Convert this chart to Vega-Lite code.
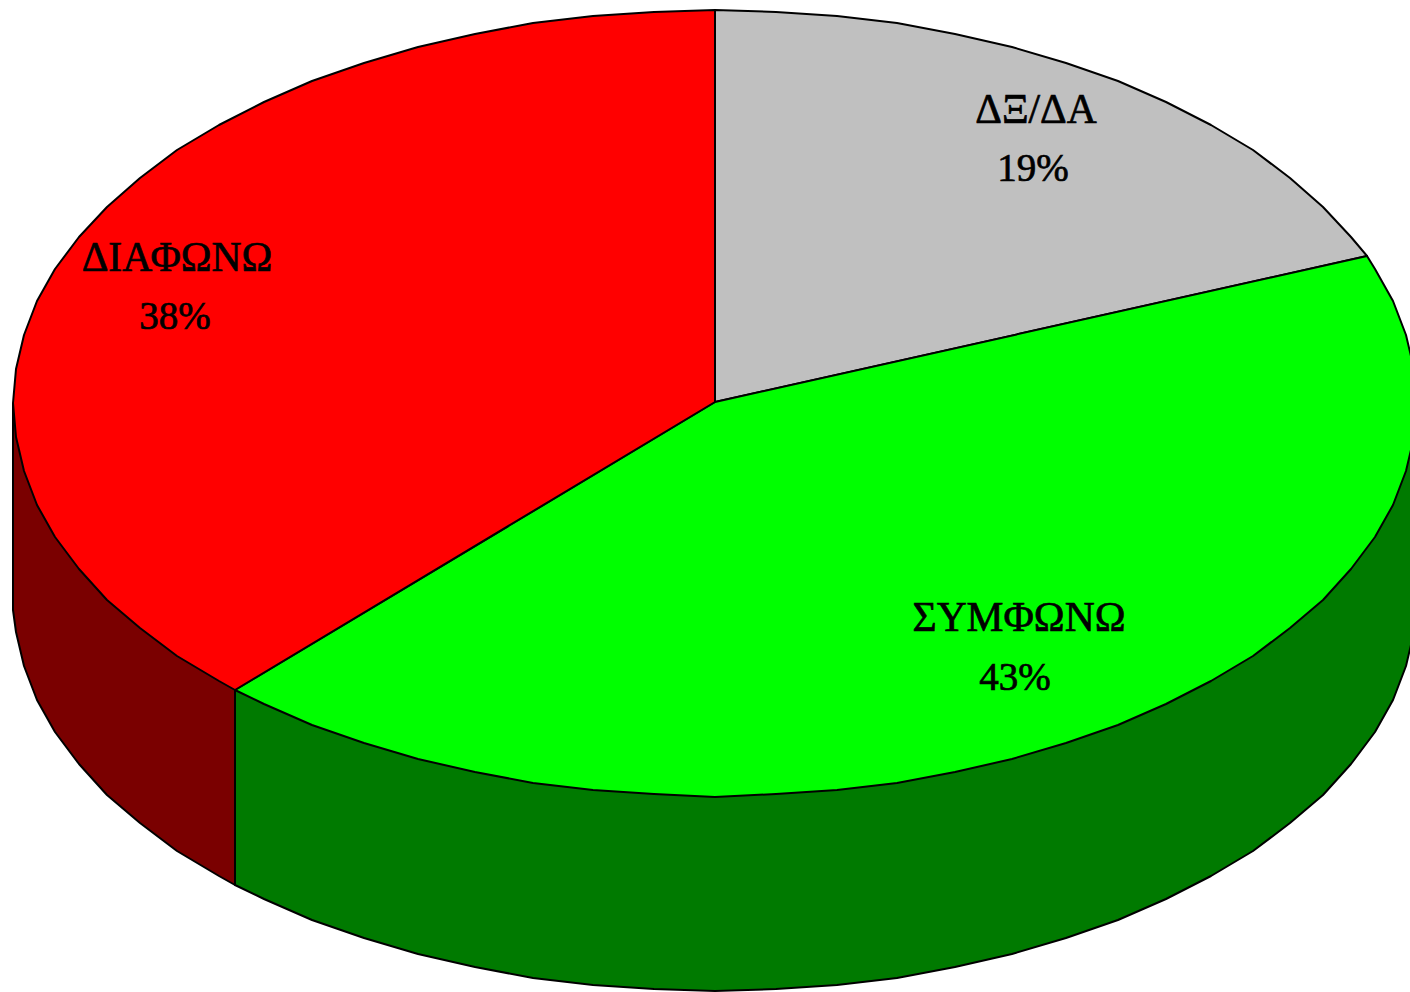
{"$schema":"https://vega.github.io/schema/vega-lite/v6.json","autosize":{"type":"fit","contains":"padding"},"width":1410,"height":992,"padding":0,"background":"white","view":{"stroke":null},
"datasets":{
"sides":[
{"s":"Συμφωνώ πλευρά","x":1417,"y":403},{"s":"Συμφωνώ πλευρά","x":1417,"y":598},{"s":"Συμφωνώ πλευρά","x":1414,"y":632},{"s":"Συμφωνώ πλευρά","x":1406,"y":666},{"s":"Συμφωνώ πλευρά","x":1393,"y":700},{"s":"Συμφωνώ πλευρά","x":1375,"y":732},{"s":"Συμφωνώ πλευρά","x":1351,"y":764},{"s":"Συμφωνώ πλευρά","x":1323,"y":795},{"s":"Συμφωνώ πλευρά","x":1290,"y":823},{"s":"Συμφωνώ πλευρά","x":1253,"y":851},{"s":"Συμφωνώ πλευρά","x":1211,"y":876},{"s":"Συμφωνώ πλευρά","x":1166,"y":899},{"s":"Συμφωνώ πλευρά","x":1118,"y":920},{"s":"Συμφωνώ πλευρά","x":1066,"y":938},{"s":"Συμφωνώ πλευρά","x":1012,"y":954},{"s":"Συμφωνώ πλευρά","x":955,"y":967},{"s":"Συμφωνώ πλευρά","x":897,"y":978},{"s":"Συμφωνώ πλευρά","x":837,"y":985},{"s":"Συμφωνώ πλευρά","x":776,"y":989},{"s":"Συμφωνώ πλευρά","x":715,"y":991},{"s":"Συμφωνώ πλευρά","x":654,"y":989},{"s":"Συμφωνώ πλευρά","x":593,"y":985},{"s":"Συμφωνώ πλευρά","x":533,"y":978},{"s":"Συμφωνώ πλευρά","x":475,"y":967},{"s":"Συμφωνώ πλευρά","x":418,"y":954},{"s":"Συμφωνώ πλευρά","x":364,"y":938},{"s":"Συμφωνώ πλευρά","x":312,"y":920},{"s":"Συμφωνώ πλευρά","x":264,"y":899},{"s":"Συμφωνώ πλευρά","x":235,"y":885},{"s":"Συμφωνώ πλευρά","x":235,"y":690},{"s":"Συμφωνώ πλευρά","x":1417,"y":403},
{"s":"Διαφωνώ πλευρά","x":13,"y":403},{"s":"Διαφωνώ πλευρά","x":13,"y":610},{"s":"Διαφωνώ πλευρά","x":16,"y":632},{"s":"Διαφωνώ πλευρά","x":24,"y":666},{"s":"Διαφωνώ πλευρά","x":37,"y":700},{"s":"Διαφωνώ πλευρά","x":55,"y":732},{"s":"Διαφωνώ πλευρά","x":79,"y":764},{"s":"Διαφωνώ πλευρά","x":107,"y":795},{"s":"Διαφωνώ πλευρά","x":140,"y":823},{"s":"Διαφωνώ πλευρά","x":177,"y":851},{"s":"Διαφωνώ πλευρά","x":219,"y":876},{"s":"Διαφωνώ πλευρά","x":235,"y":885},{"s":"Διαφωνώ πλευρά","x":235,"y":690},{"s":"Διαφωνώ πλευρά","x":13,"y":403}
],
"tops":[
{"s":"ΔΞ/ΔΑ","x":715,"y":402},{"s":"ΔΞ/ΔΑ","x":715,"y":10},{"s":"ΔΞ/ΔΑ","x":776,"y":12},{"s":"ΔΞ/ΔΑ","x":837,"y":16},{"s":"ΔΞ/ΔΑ","x":897,"y":23},{"s":"ΔΞ/ΔΑ","x":955,"y":34},{"s":"ΔΞ/ΔΑ","x":1012,"y":47},{"s":"ΔΞ/ΔΑ","x":1066,"y":63},{"s":"ΔΞ/ΔΑ","x":1118,"y":81},{"s":"ΔΞ/ΔΑ","x":1166,"y":102},{"s":"ΔΞ/ΔΑ","x":1211,"y":125},{"s":"ΔΞ/ΔΑ","x":1253,"y":150},{"s":"ΔΞ/ΔΑ","x":1290,"y":178},{"s":"ΔΞ/ΔΑ","x":1323,"y":207},{"s":"ΔΞ/ΔΑ","x":1351,"y":237},{"s":"ΔΞ/ΔΑ","x":1367,"y":256},{"s":"ΔΞ/ΔΑ","x":715,"y":402},
{"s":"ΣΥΜΦΩΝΩ","x":715,"y":402},{"s":"ΣΥΜΦΩΝΩ","x":1367,"y":256},{"s":"ΣΥΜΦΩΝΩ","x":1375,"y":269},{"s":"ΣΥΜΦΩΝΩ","x":1393,"y":301},{"s":"ΣΥΜΦΩΝΩ","x":1406,"y":335},{"s":"ΣΥΜΦΩΝΩ","x":1414,"y":369},{"s":"ΣΥΜΦΩΝΩ","x":1417,"y":403},{"s":"ΣΥΜΦΩΝΩ","x":1414,"y":437},{"s":"ΣΥΜΦΩΝΩ","x":1406,"y":471},{"s":"ΣΥΜΦΩΝΩ","x":1393,"y":505},{"s":"ΣΥΜΦΩΝΩ","x":1375,"y":537},{"s":"ΣΥΜΦΩΝΩ","x":1351,"y":569},{"s":"ΣΥΜΦΩΝΩ","x":1323,"y":600},{"s":"ΣΥΜΦΩΝΩ","x":1290,"y":628},{"s":"ΣΥΜΦΩΝΩ","x":1253,"y":656},{"s":"ΣΥΜΦΩΝΩ","x":1211,"y":681},{"s":"ΣΥΜΦΩΝΩ","x":1166,"y":704},{"s":"ΣΥΜΦΩΝΩ","x":1118,"y":725},{"s":"ΣΥΜΦΩΝΩ","x":1066,"y":743},{"s":"ΣΥΜΦΩΝΩ","x":1012,"y":759},{"s":"ΣΥΜΦΩΝΩ","x":955,"y":772},{"s":"ΣΥΜΦΩΝΩ","x":897,"y":783},{"s":"ΣΥΜΦΩΝΩ","x":837,"y":790},{"s":"ΣΥΜΦΩΝΩ","x":776,"y":794},{"s":"ΣΥΜΦΩΝΩ","x":715,"y":797},{"s":"ΣΥΜΦΩΝΩ","x":654,"y":794},{"s":"ΣΥΜΦΩΝΩ","x":593,"y":790},{"s":"ΣΥΜΦΩΝΩ","x":533,"y":783},{"s":"ΣΥΜΦΩΝΩ","x":475,"y":772},{"s":"ΣΥΜΦΩΝΩ","x":418,"y":759},{"s":"ΣΥΜΦΩΝΩ","x":364,"y":743},{"s":"ΣΥΜΦΩΝΩ","x":312,"y":725},{"s":"ΣΥΜΦΩΝΩ","x":264,"y":704},{"s":"ΣΥΜΦΩΝΩ","x":235,"y":690},{"s":"ΣΥΜΦΩΝΩ","x":715,"y":402},
{"s":"ΔΙΑΦΩΝΩ","x":715,"y":402},{"s":"ΔΙΑΦΩΝΩ","x":235,"y":690},{"s":"ΔΙΑΦΩΝΩ","x":219,"y":681},{"s":"ΔΙΑΦΩΝΩ","x":177,"y":656},{"s":"ΔΙΑΦΩΝΩ","x":140,"y":628},{"s":"ΔΙΑΦΩΝΩ","x":107,"y":600},{"s":"ΔΙΑΦΩΝΩ","x":79,"y":569},{"s":"ΔΙΑΦΩΝΩ","x":55,"y":537},{"s":"ΔΙΑΦΩΝΩ","x":37,"y":505},{"s":"ΔΙΑΦΩΝΩ","x":24,"y":471},{"s":"ΔΙΑΦΩΝΩ","x":16,"y":437},{"s":"ΔΙΑΦΩΝΩ","x":13,"y":403},{"s":"ΔΙΑΦΩΝΩ","x":16,"y":369},{"s":"ΔΙΑΦΩΝΩ","x":24,"y":335},{"s":"ΔΙΑΦΩΝΩ","x":37,"y":301},{"s":"ΔΙΑΦΩΝΩ","x":55,"y":269},{"s":"ΔΙΑΦΩΝΩ","x":79,"y":237},{"s":"ΔΙΑΦΩΝΩ","x":107,"y":207},{"s":"ΔΙΑΦΩΝΩ","x":140,"y":178},{"s":"ΔΙΑΦΩΝΩ","x":177,"y":150},{"s":"ΔΙΑΦΩΝΩ","x":219,"y":125},{"s":"ΔΙΑΦΩΝΩ","x":264,"y":102},{"s":"ΔΙΑΦΩΝΩ","x":312,"y":81},{"s":"ΔΙΑΦΩΝΩ","x":364,"y":63},{"s":"ΔΙΑΦΩΝΩ","x":418,"y":47},{"s":"ΔΙΑΦΩΝΩ","x":475,"y":34},{"s":"ΔΙΑΦΩΝΩ","x":533,"y":23},{"s":"ΔΙΑΦΩΝΩ","x":593,"y":16},{"s":"ΔΙΑΦΩΝΩ","x":654,"y":12},{"s":"ΔΙΑΦΩΝΩ","x":715,"y":10},{"s":"ΔΙΑΦΩΝΩ","x":715,"y":402}
],
"names":[
{"t":"ΔΞ/ΔΑ","x":1036,"y":111},
{"t":"ΔΙΑΦΩΝΩ","x":177,"y":259},
{"t":"ΣΥΜΦΩΝΩ","x":1019,"y":619}
],
"pcts":[
{"t":"19%","x":1033,"y":169},
{"t":"38%","x":175,"y":317},
{"t":"43%","x":1015,"y":678}
]
},
"layer":[
{"data":{"name":"sides"},"mark":{"type":"line","order":null,"clip":true,"stroke":"black","strokeWidth":2,"strokeJoin":"round"},
"encoding":{"x":{"field":"x","type":"quantitative","scale":{"domain":[0,1410],"nice":false,"zero":false},"axis":null},"y":{"field":"y","type":"quantitative","scale":{"domain":[992,0],"nice":false,"zero":false},"axis":null},"fill":{"field":"s","type":"nominal","scale":{"domain":["Συμφωνώ πλευρά","Διαφωνώ πλευρά","ΔΞ/ΔΑ","ΣΥΜΦΩΝΩ","ΔΙΑΦΩΝΩ"],"range":["#007a00","#7a0000","#c0c0c0","#00ff00","#ff0000"]},"legend":null}}},
{"data":{"name":"tops"},"mark":{"type":"line","order":null,"clip":true,"stroke":"black","strokeWidth":2,"strokeJoin":"round"},
"encoding":{"x":{"field":"x","type":"quantitative","scale":{"domain":[0,1410],"nice":false,"zero":false},"axis":null},"y":{"field":"y","type":"quantitative","scale":{"domain":[992,0],"nice":false,"zero":false},"axis":null},"fill":{"field":"s","type":"nominal","scale":{"domain":["Συμφωνώ πλευρά","Διαφωνώ πλευρά","ΔΞ/ΔΑ","ΣΥΜΦΩΝΩ","ΔΙΑΦΩΝΩ"],"range":["#007a00","#7a0000","#c0c0c0","#00ff00","#ff0000"]},"legend":null}}},
{"data":{"name":"names"},"mark":{"type":"text","font":"Liberation Serif","fontSize":41.5,"fill":"black","stroke":"black","strokeWidth":0.7,"align":"center","baseline":"middle"},
"encoding":{"x":{"field":"x","type":"quantitative","scale":{"domain":[0,1410],"nice":false,"zero":false},"axis":null},"y":{"field":"y","type":"quantitative","scale":{"domain":[992,0],"nice":false,"zero":false},"axis":null},"text":{"field":"t","type":"nominal"}}},
{"data":{"name":"pcts"},"mark":{"type":"text","font":"Liberation Serif","fontSize":39,"fill":"black","stroke":"black","strokeWidth":0.7,"align":"center","baseline":"middle"},
"encoding":{"x":{"field":"x","type":"quantitative","scale":{"domain":[0,1410],"nice":false,"zero":false},"axis":null},"y":{"field":"y","type":"quantitative","scale":{"domain":[992,0],"nice":false,"zero":false},"axis":null},"text":{"field":"t","type":"nominal"}}}
]}
